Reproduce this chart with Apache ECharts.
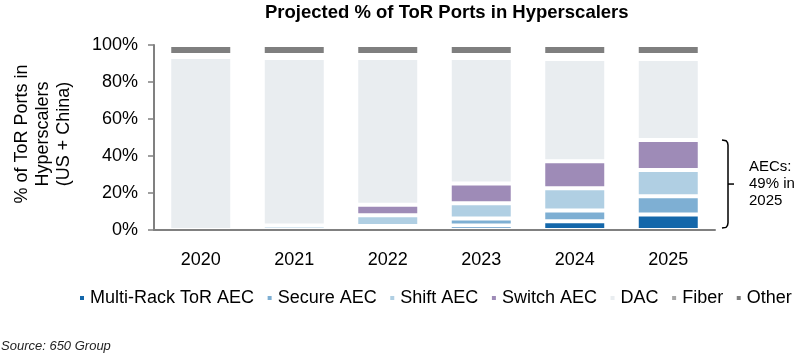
<!DOCTYPE html>
<html><head><meta charset="utf-8">
<script src="https://cdn.jsdelivr.net/npm/echarts@6/dist/echarts.min.js"></script>
<style>html,body{margin:0;padding:0;background:#fff}#c{width:794px;height:357px}</style>
</head><body><div id="c"></div>
<script>
// ---- data ----
const years = ['2020', '2021', '2022', '2023', '2024', '2025'];
const multiRack = [0, 0, 0.8, 2.4, 4.7, 8.4];
const secureAec = [0, 0, 1.3, 3.8, 5.9, 9.9];
const shiftAec = [0, 2.5, 5.9, 8.2, 12.0, 14.1];
const switchAec = [0, 0, 5.6, 10.8, 14.6, 16.2];
const dac = [93.5, 90.5, 79.4, 67.8, 55.2, 43.8];
const fiber = [1.1, 1.6, 1.6, 1.6, 2.2, 2.2];
const other = [5.4, 5.4, 5.4, 5.4, 5.4, 5.4];
const yTicks = [0, 20, 40, 60, 80, 100];
const seriesNames = ['Multi-Rack ToR AEC', 'Secure AEC', 'Shift AEC', 'Switch AEC', 'DAC', 'Fiber', 'Other'];
const seriesData = [multiRack, secureAec, shiftAec, switchAec, dac, fiber, other];
const colors = ['#1467aa', '#7eafd3', '#b0cfe3', '#9e8bb7', '#e9edf0', '#a6a6a6', '#7f7f7f'];
const annotationLines = ['AECs:', '49% in', '2025'];

const FONT = '"Liberation Sans", Arial, Helvetica, sans-serif';
const chart = echarts.init(document.getElementById('c'), null, {renderer: 'canvas'});

const series = seriesNames.map((n, i) => ({
  name: n, type: 'bar', stack: 'total', barWidth: 63,
  data: seriesData[i],
  itemStyle: {color: colors[i], borderColor: '#ffffff', borderWidth: 2},
  emphasis: {disabled: true}
}));

chart.setOption({
  animation: false,
  backgroundColor: '#ffffff',
  title: {
    text: 'Projected % of ToR Ports in Hyperscalers',
    left: 260, top: -2,
    textStyle: {fontFamily: FONT, fontSize: 18.5, fontWeight: 'bold', color: '#000'}
  },
  legend: {
    data: seriesNames, left: 78, top: 289, itemWidth: 6, itemHeight: 6, itemGap: 11.6,
    icon: 'rect', selectedMode: false, padding: 0,
    textStyle: {fontFamily: FONT, fontSize: 18, color: '#000'}
  },
  grid: {left: 154, right: 79, top: 45, bottom: 127, containLabel: false, outerBoundsMode: 'none'},
  xAxis: {
    type: 'category', data: years, z: 10,
    axisLine: {show: true, lineStyle: {color: '#808080', width: 2}},
    axisTick: {show: false},
    axisLabel: {fontFamily: FONT, fontSize: 18, color: '#000', margin: 21},
    splitLine: {show: false}
  },
  yAxis: {
    type: 'value', min: yTicks[0], max: yTicks[yTicks.length - 1], interval: yTicks[1] - yTicks[0], z: 10,
    axisLine: {show: true, lineStyle: {color: '#808080', width: 2}},
    axisTick: {show: true, inside: false, length: 6, lineStyle: {color: '#808080', width: 1.5}},
    axisLabel: {fontFamily: FONT, fontSize: 18, color: '#000', margin: 16, formatter: '{value}%'},
    splitLine: {show: false}
  },
  series: series
});

// annotation brace aligned to 2025 AEC total
const last = years.length - 1;
const aecTotal = multiRack[last] + secureAec[last] + shiftAec[last] + switchAec[last];
const yTop = chart.convertToPixel({yAxisIndex: 0}, aecTotal);
const yBot = chart.convertToPixel({yAxisIndex: 0}, 0) - 2;
const yMid = (yTop + yBot) / 2;
const x0 = 722, x1 = 728, x2 = 734;
const braceStroke = {fill: null, stroke: '#000', lineWidth: 1.5};

chart.setOption({
  graphic: [
    {type: 'polyline', shape: {points: [[x0, yTop], [x1 - 2, yTop + 0.6], [x1 - 0.5, yTop + 2.5], [x1, yTop + 5], [x1, yBot - 5], [x1 - 0.5, yBot - 2.5], [x1 - 2, yBot - 0.6], [x0, yBot]]}, style: braceStroke},
    {type: 'line', shape: {x1: x1, y1: yMid, x2: x2, y2: yMid}, style: braceStroke},
    {type: 'text', x: 749, y: yMid - 26, style: {text: annotationLines.join('\n'), fontFamily: FONT, fontSize: 15, lineHeight: 17, fill: '#000', textAlign: 'left', textVerticalAlign: 'top'}},
    {type: 'text', x: 43, y: 134, rotation: Math.PI / 2, style: {text: '% of ToR Ports in\nHyperscalers\n(US + China)', fontFamily: FONT, fontSize: 18, lineHeight: 21, fill: '#000', textAlign: 'center', textVerticalAlign: 'middle'}},
    {type: 'text', x: 1, y: 340, style: {text: 'Source: 650 Group', fontFamily: FONT, fontSize: 13, fontStyle: 'italic', fill: '#222', textAlign: 'left', textVerticalAlign: 'top'}}
  ]
});
</script>
</body></html>
